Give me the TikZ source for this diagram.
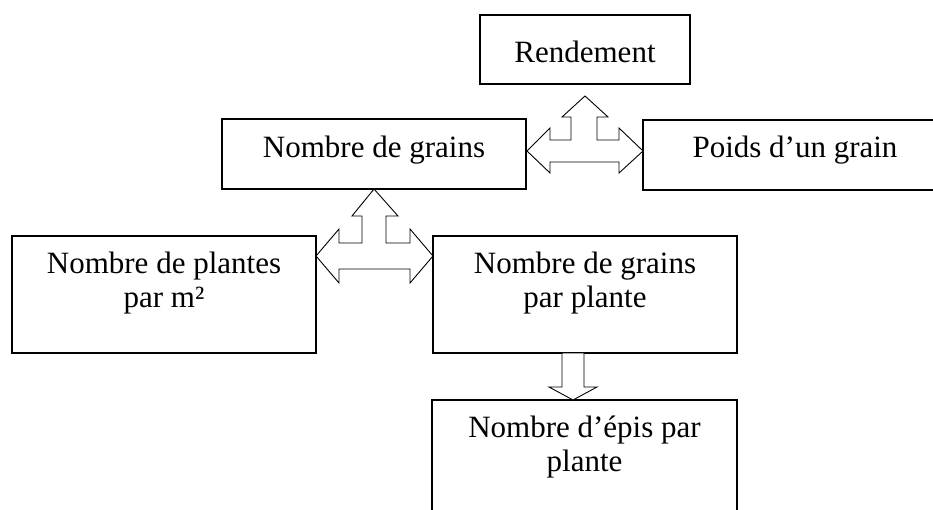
\documentclass[tikz,border=0pt]{standalone}
\usepackage{fontspec}
\setmainfont{Liberation Serif}
\begin{document}
\begin{tikzpicture}[x=1pt,y=-1pt,
  box/.style={draw=black,line width=1.5pt,inner sep=0pt,outer sep=0pt,rectangle},
  txt/.style={anchor=base,inner sep=0pt,font=\fontsize{31}{35}\selectfont},
  blockarrow/.style={draw=black,line width=0.9pt,fill=white,line join=miter}]
\useasboundingbox (0,0) rectangle (933,510);
\clip (0,0) rectangle (933,510);
% boxes
\node[box,minimum width=210pt,minimum height=69pt] (rend) at (585,49.5) {};
\node[box,minimum width=304pt,minimum height=70pt] (ngr) at (374,154) {};
\node[box,minimum width=304pt,minimum height=70pt] (poids) at (795,155) {};
\node[box,minimum width=304pt,minimum height=117pt] (npl) at (164,294.5) {};
\node[box,minimum width=304pt,minimum height=117pt] (ngpp) at (585,294.5) {};
\node[box,minimum width=305pt,minimum height=117pt] (nepis) at (584.5,458.5) {};
% texts
\node[txt] (t1) at (585,63) {Rendement};
\node[txt] (t2) at (374,158) {Nombre de grains};
\node[txt] (t3) at (795,158) {Poids d’un grain};
\node[txt] (t4a) at (164,273) {Nombre de plantes};
\node[txt] (t4b) at (164,307) {par m²};
\node[txt] (t5a) at (585,273) {Nombre de grains};
\node[txt] (t5b) at (585,307) {par plante};
\node[txt] (t6a) at (584.5,437) {Nombre d’épis par};
\node[txt] (t6b) at (584.5,471) {plante};
% three-headed arrow between Nombre de grains, Rendement, Poids
\draw[blockarrow] (585,96) -- (608,117) -- (597,117) -- (597,140) -- (619,140) -- (619,128)
  -- (643,151) -- (619,173) -- (619,162) -- (550,162) -- (550,173) -- (527,151)
  -- (550,128) -- (550,140) -- (571,140) -- (571,117) -- (562,117) -- cycle;
% three-headed arrow between plantes, grains, grains par plante
\draw[blockarrow] (374,189) -- (398,216) -- (386,216) -- (386,243) -- (410,243) -- (410,229)
  -- (433,256) -- (410,283) -- (410,269) -- (339,269) -- (339,283) -- (316,256)
  -- (339,229) -- (339,243) -- (362,243) -- (362,216) -- (352,216) -- cycle;
% down arrow
\draw[blockarrow] (562,353) -- (584,353) -- (584,387) -- (597,387) -- (573,400)
  -- (549,387) -- (562,387) -- cycle;
\end{tikzpicture}
\end{document}
